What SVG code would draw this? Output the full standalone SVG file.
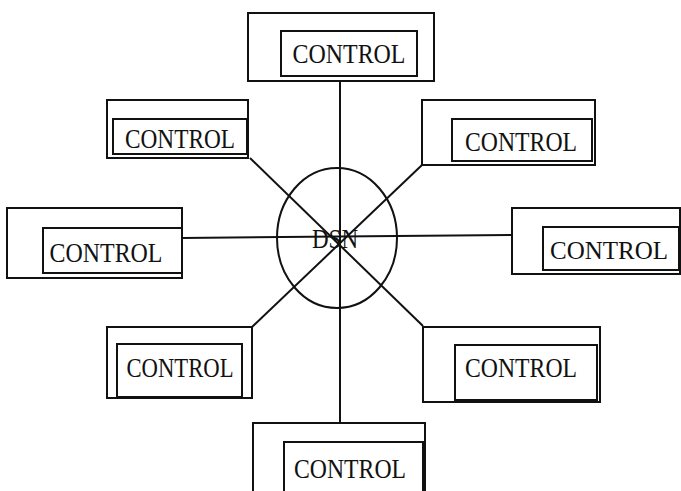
<svg xmlns="http://www.w3.org/2000/svg" width="681" height="491" viewBox="0 0 681 491">
<style>
.b{fill:none;stroke:#111;stroke-width:2}
.c line{stroke:#111;stroke-width:2}
ellipse{fill:none;stroke:#111;stroke-width:2}
text{font-family:"Liberation Serif","Times New Roman",serif;font-size:28px;fill:#111;text-anchor:middle}
</style>
<rect x="0" y="0" width="681" height="491" fill="#fff"/>
<g class="c" id="connectors">
<line x1="340" y1="81" x2="340" y2="423"/>
<line x1="182" y1="238" x2="512" y2="235"/>
<line x1="250" y1="158" x2="423" y2="326"/>
<line x1="422" y1="165" x2="252" y2="327"/>
</g>
<g id="dsn">
<ellipse cx="337" cy="238" rx="60" ry="70"/>
<text x="335" y="248" textLength="46" lengthAdjust="spacingAndGlyphs">DSN</text>
</g>
<g id="top">
<rect class="b" x="248" y="13" width="186" height="68"/>
<rect class="b" x="281" y="31" width="136" height="45"/>
<text x="349" y="63" textLength="113" lengthAdjust="spacingAndGlyphs">CONTROL</text>
</g>
<g id="upper-left">
<rect class="b" x="107" y="100" width="141" height="58"/>
<rect class="b" x="113" y="119" width="134" height="35"/>
<text x="180" y="148" textLength="110" lengthAdjust="spacingAndGlyphs">CONTROL</text>
</g>
<g id="upper-right">
<rect class="b" x="422" y="100" width="173" height="65"/>
<rect class="b" x="452" y="119" width="140" height="42"/>
<text x="521" y="151" textLength="112" lengthAdjust="spacingAndGlyphs">CONTROL</text>
</g>
<g id="left">
<rect class="b" x="7" y="208" width="175" height="70"/>
<rect class="b" x="43" y="228" width="139" height="45"/>
<text x="106" y="262" textLength="113" lengthAdjust="spacingAndGlyphs">CONTROL</text>
</g>
<g id="right">
<rect class="b" x="512" y="208" width="168" height="66"/>
<rect class="b" x="543" y="227" width="136" height="43"/>
<text x="609" y="259" style="font-size:25px">CONTROL</text>
</g>
<g id="lower-left">
<rect class="b" x="107" y="327" width="145" height="71"/>
<rect class="b" x="117" y="344" width="125" height="53"/>
<text x="180" y="377" textLength="107" lengthAdjust="spacingAndGlyphs">CONTROL</text>
</g>
<g id="lower-right">
<rect class="b" x="423" y="327" width="177" height="75"/>
<rect class="b" x="455" y="345" width="142" height="55"/>
<text x="521" y="377" textLength="112" lengthAdjust="spacingAndGlyphs">CONTROL</text>
</g>
<g id="bottom">
<path class="b" d="M253 491 V423 H425 V491"/>
<path class="b" d="M284 491 V442 H423 V491"/>
<text x="350" y="478" textLength="112" lengthAdjust="spacingAndGlyphs">CONTROL</text>
</g>
</svg>
